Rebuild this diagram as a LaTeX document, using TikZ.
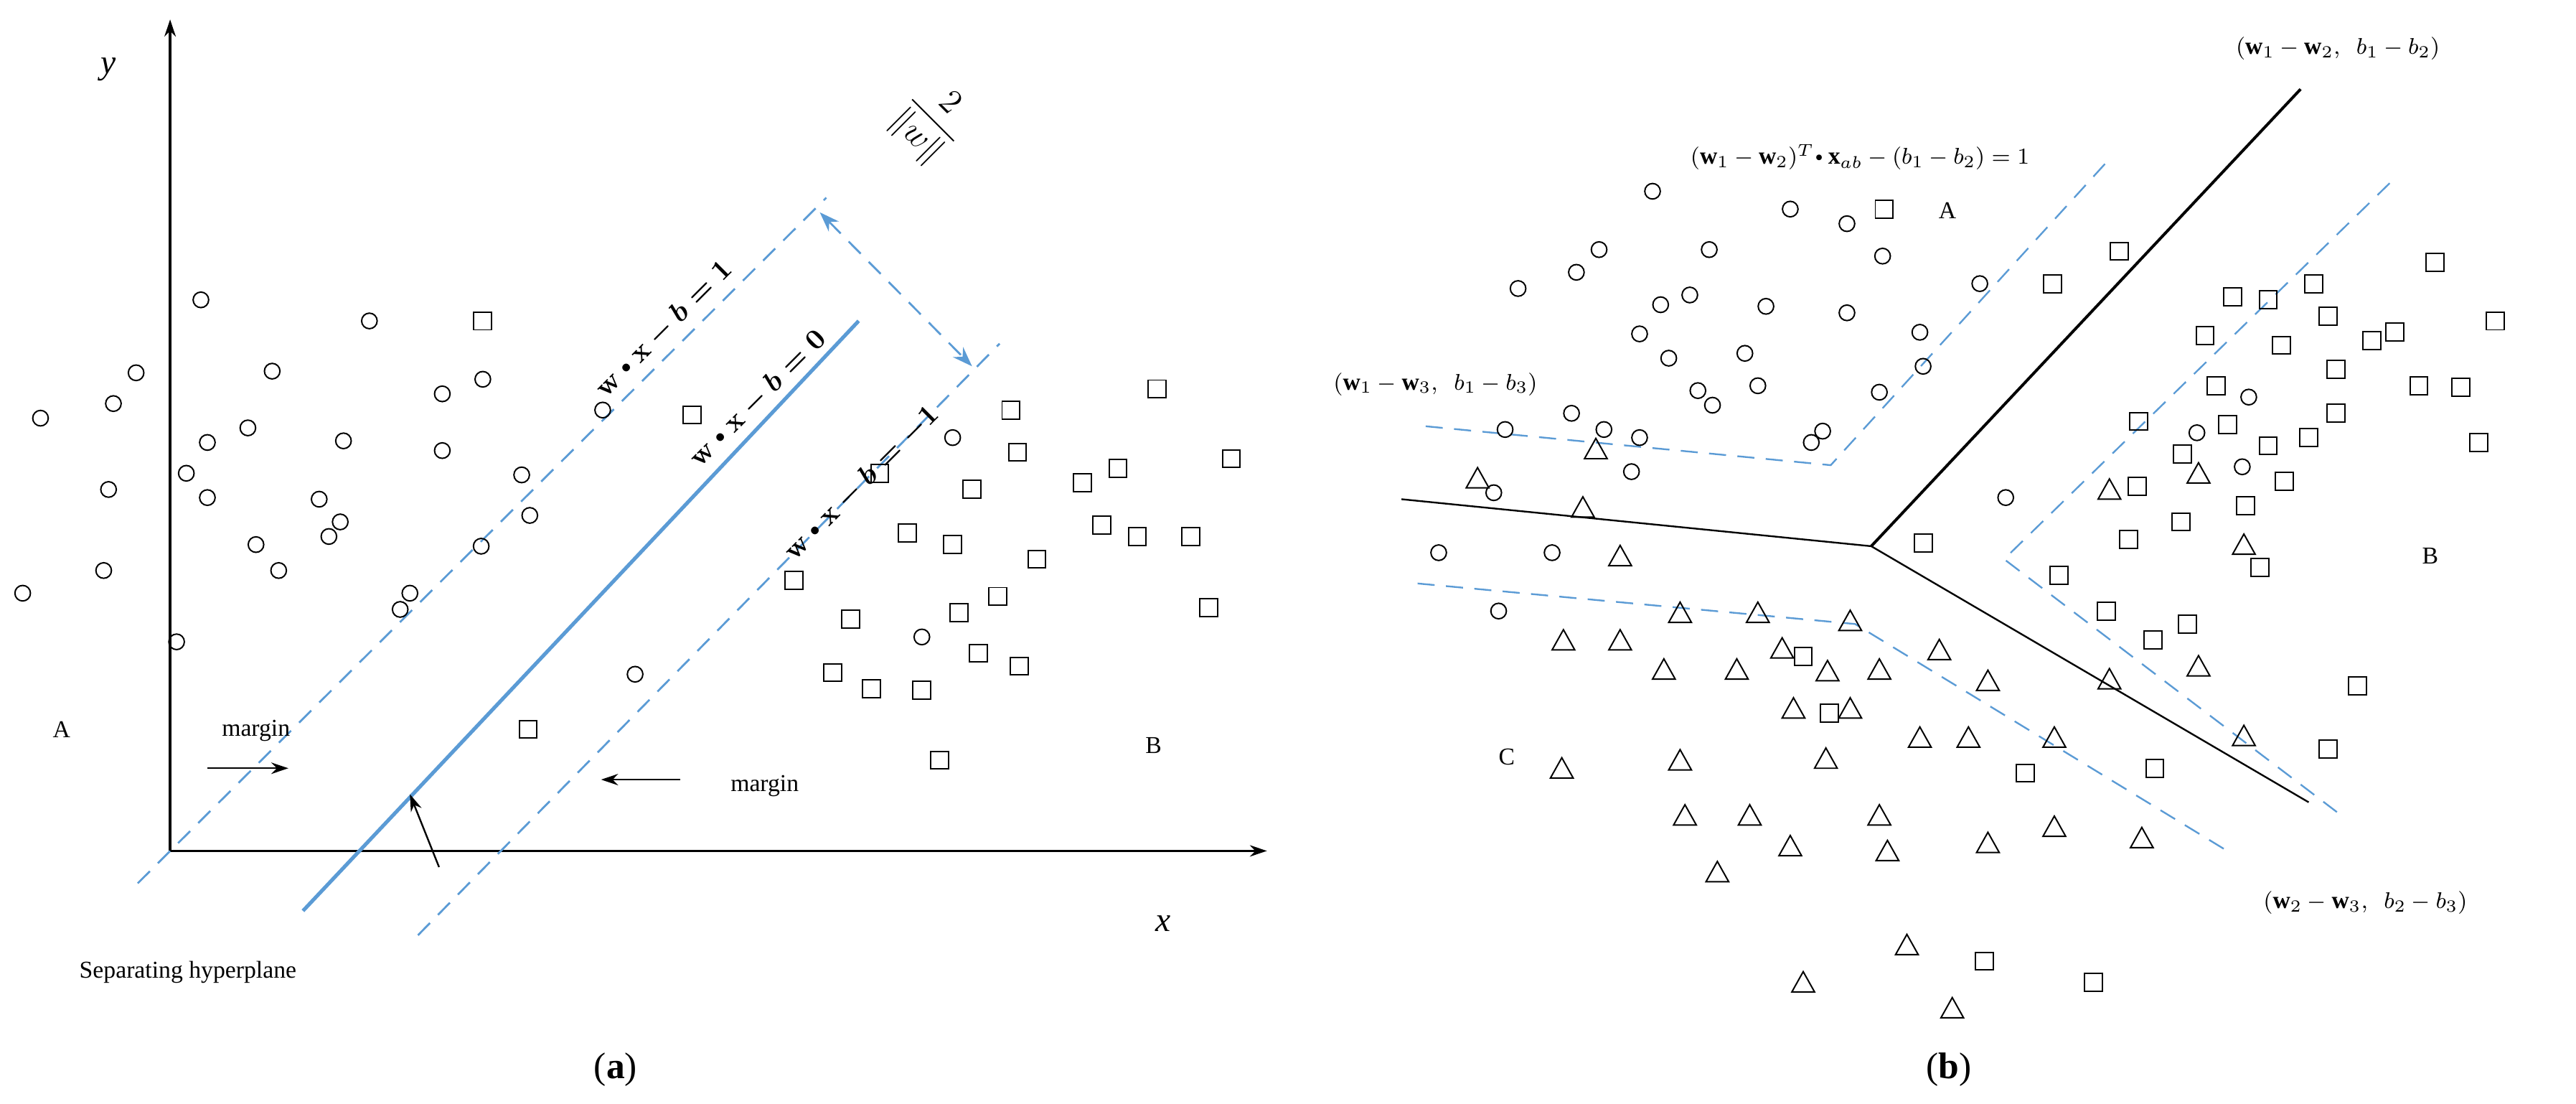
\documentclass[tikz,border=0pt]{standalone}
\usepackage{amsmath}
\usepackage{fontspec}
\setmainfont{Liberation Serif}
\usetikzlibrary{arrows.meta}
\definecolor{lb}{RGB}{91,155,213}
\newcommand{\sbul}{\mathbin{\raisebox{0.25ex}{\scalebox{0.6}{$\bullet$}}}}
\begin{document}
\begin{tikzpicture}[x=0.02cm,y=-0.02cm,
  pt/.style={line width=0.5pt,black},
  dl/.style={lb,dashed,dash pattern=on 6pt off 4pt,line width=0.7pt},
  lab/.style={font=\fontsize{8.5}{10}\selectfont,inner sep=1pt},
  ar/.style={-{Stealth[length=6pt,width=4pt]},line width=0.6pt}]
\useasboundingbox (0,0) rectangle (1590,681);
\def\C#1#2{\draw[pt] (#1,#2) circle (4.8);}
\def\S#1#2{\draw[pt] (#1-5.5,#2-5.5) rectangle (#1+5.5,#2+5.5);}
\def\T#1#2{\draw[pt] (#1-7,#2+6) -- (#1+7,#2+6) -- (#1,#2-6.5) -- cycle;}
% ---------- panel (a)
\coordinate (o) at (105,525);
\coordinate (ytop) at (105,12);
\coordinate (xend) at (782,525);
\draw[ar,line width=0.8pt] (o) -- (ytop);
\draw[ar,line width=0.8pt] (o) -- (xend);
\node[font=\itshape\fontsize{12}{14}\selectfont] (ylab) at (67,43) {y};
\node[font=\itshape\fontsize{12}{14}\selectfont] (xlab) at (718,570) {x};
\coordinate (h1) at (187,562); \coordinate (h2) at (530,198);
\draw[lb,line width=1.3pt] (h1) -- (h2);
\coordinate (u1) at (85,545); \coordinate (u2) at (510,122);
\draw[dl] (u1) -- (u2);
\coordinate (l1) at (258,577); \coordinate (l2) at (617,212);
\draw[dl] (l1) -- (l2);
\coordinate (m1) at (506,131); \coordinate (m2) at (600,226);
\draw[dl,{Stealth[length=7pt,width=5pt]}-{Stealth[length=7pt,width=5pt]}] (m1) -- (m2);
\node[rotate=-45,font=\fontsize{12}{14}\selectfont,inner sep=0pt] (frac) at (575,75) {$\displaystyle\frac{2}{\|w\|}$};
\node[lab,rotate=45,font=\fontsize{10}{12}\selectfont] (e1) at (410,203) {$\boldsymbol{\mathbf{w}\sbul\mathbf{x}-b=1}$};
\node[lab,rotate=45,font=\fontsize{10}{12}\selectfont] (e0) at (468,246) {$\boldsymbol{\mathbf{w}\sbul\mathbf{x}-b=0}$};
\node[lab,rotate=45,font=\fontsize{10}{12}\selectfont] (e2) at (532,298) {$\boldsymbol{\mathbf{w}\sbul\mathbf{x}-b=-1}$};
\foreach \x/\y in {25/258,14/366,70/249,84/230,67/302,64/352,124/185,115/292,128/273,128/307,153/264,168/229,158/336,172/352,197/308,203/331,210/322,212/272,228/198,247/376,253/366,273/243,273/278,298/234,297/337,322/293,327/318,372/253,392/416,109/396,588/270,569/393}{\C{\x}{\y}}
\foreach \x/\y in {298/198,427/256,490/358,543/292,525/382,560/329,588/336,600/302,624/253,592/378,616/368,628/279,668/298,690/289,714/240,760/283,680/324,702/331,735/331,746/375,514/415,538/425,569/426,604/403,629/411,580/469,326/450,640/345}{\S{\x}{\y}}
\node[lab] (A) at (38,450) {A};
\node[lab] (B) at (712,460) {B};
\node[lab] (mg1) at (158,451) {margin};
\coordinate (ma1) at (128,474); \coordinate (ma2) at (178,474);
\draw[ar] (ma1) -- (ma2);
\node[lab] (mg2) at (472,485) {margin};
\coordinate (mb1) at (420,481); \coordinate (mb2) at (371,481);
\draw[ar] (mb1) -- (mb2);
\coordinate (sa1) at (271,535); \coordinate (sa2) at (253,490);
\draw[ar] (sa1) -- (sa2);
\node[lab] (sep) at (116,600) {Separating hyperplane};
\node[font=\fontsize{13}{15}\selectfont] (capa) at (380,660) {(\textbf{a})};
% ---------- panel (b)
\coordinate (c) at (1155,337);
\coordinate (p1) at (1420,55); \coordinate (p2) at (865,308); \coordinate (p3) at (1425,495);
\draw[line width=1pt] (c) -- (p1);
\draw[line width=0.6pt] (c) -- (p2);
\draw[line width=0.6pt] (c) -- (p3);
\coordinate (a1) at (880,263); \coordinate (a2) at (1130,287); \coordinate (a3) at (1303,97);
\draw[dl,line width=0.6pt] (a1) -- (a2) -- (a3);
\coordinate (b1) at (1475,113); \coordinate (b2) at (1237,345); \coordinate (b3) at (1445,503);
\draw[dl,line width=0.6pt] (b1) -- (b2) -- (b3);
\coordinate (d1) at (875,360); \coordinate (d2) at (1145,385); \coordinate (d3) at (1378,527);
\draw[dl,line width=0.6pt] (d1) -- (d2) -- (d3);
\node[lab] (f0) at (1148,97) {$(\mathbf{w}_1-\mathbf{w}_2)^T\!\sbul\mathbf{x}_{ab}-(b_1-b_2)=1$};
\node[lab] (f1) at (1443,30) {$(\mathbf{w}_1-\mathbf{w}_2,\ \ b_1-b_2)$};
\node[lab] (f2) at (886,237) {$(\mathbf{w}_1-\mathbf{w}_3,\ \ b_1-b_3)$};
\node[lab] (f3) at (1460,557) {$(\mathbf{w}_2-\mathbf{w}_3,\ \ b_2-b_3)$};
\node[lab] (bA) at (1202,130) {A};
\node[lab] (bB) at (1500,343) {B};
\node[lab] (bC) at (930,467) {C};
\foreach \x/\y in {1020/118,987/154,973/168,937/178,1055/154,1105/129,1140/138,1162/158,1025/188,1043/182,1012/206,1030/221,1090/189,1140/193,1077/218,1085/238,1048/241,1057/250,970/255,990/265,1012/270,1118/273,1125/266,1185/205,1187/226,1160/242,1222/175,929/265,922/304,1007/291,888/341,958/341,925/377,1238/307,1384/288,1388/245,1356/267}{\C{\x}{\y}}
\foreach \x/\y in {1163/129,1267/175,1308/155,1361/207,1378/183,1400/185,1428/175,1437/195,1464/210,1478/205,1503/162,1540/198,1408/213,1442/228,1368/238,1320/260,1347/280,1375/262,1400/275,1410/297,1425/270,1442/255,1493/238,1519/239,1530/273,1319/300,1314/333,1346/322,1386/312,1395/350,1271/355,1300/377,1329/395,1350/385,1187/335,1113/405,1129/440,1250/477,1330/474,1455/423,1437/462,1225/593,1292/606}{\S{\x}{\y}}
\foreach \x/\y in {912/295,977/313,1000/343,985/277,1037/378,1085/378,1142/383,965/395,1000/395,1027/413,1072/413,1100/400,1128/414,1160/413,1197/401,1227/420,1107/437,1142/437,1185/455,1215/455,1268/455,964/474,1037/469,1127/468,1040/503,1080/503,1160/503,1060/538,1105/522,1165/525,1227/520,1268/510,1322/517,1113/606,1177/583,1205/622,1302/419,1357/411,1385/454,1302/302,1357/292,1385/336}{\T{\x}{\y}}
\node[font=\fontsize{13}{15}\selectfont] (capb) at (1203,660) {(\textbf{b})};
\end{tikzpicture}
\end{document}
